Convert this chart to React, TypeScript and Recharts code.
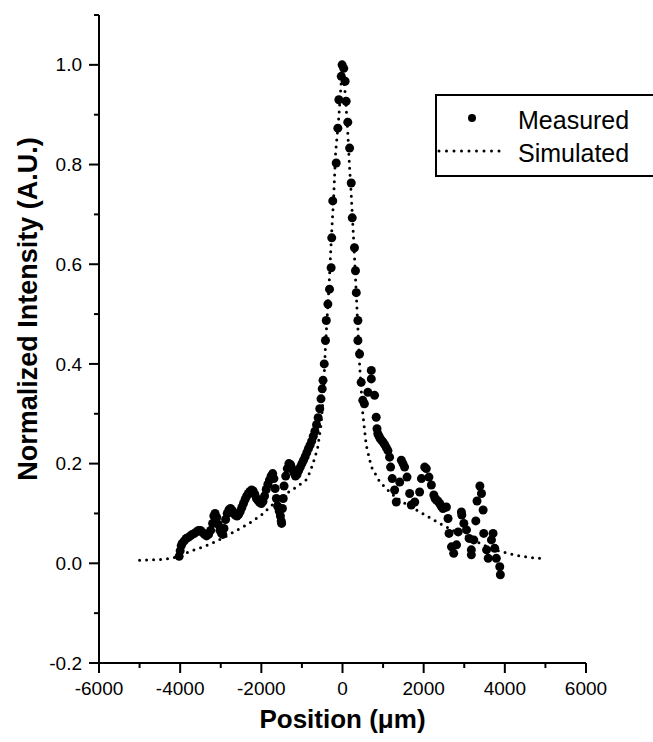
import React from 'react';
import { ScatterChart, Scatter, XAxis, YAxis, Legend } from 'recharts';

// Measured profile (position in um, normalized intensity)
const measuredX = [
  -4025, -4000, -3975, -3950, -3900, -3850, -3800, -3750, -3700, -3650, -3600, -3550, -3500, -3450, -3400,
  -3350, -3300, -3250, -3200, -3170, -3140, -3100, -3060, -3020, -2980, -2950, -2920, -2880, -2840, -2800,
  -2760, -2720, -2680, -2640, -2600, -2560, -2520, -2480, -2440, -2400, -2360, -2320, -2280, -2240, -2200,
  -2160, -2120, -2080, -2040, -2000, -1960, -1920, -1880, -1840, -1800, -1760, -1720, -1690, -1660, -1630,
  -1600, -1560, -1530, -1510, -1500, -1480, -1460, -1440, -1400, -1360, -1320, -1280, -1240, -1200, -1160,
  -1120, -1080, -1040, -1000, -960, -920, -880, -840, -800, -760, -720, -680, -640, -600, -560,
  -530, -500, -480, -450, -420, -400, -360, -320, -280, -265, -240, -155, -115, -90, -30,
  -10, 30, 65, 90, 130, 175, 215, 240, 295, 320, 340, 380, 380, 420, 460,
  500, 540, 625, 710, 710, 790, 830, 850, 870, 900, 930, 960, 1000, 1040, 1080,
  1120, 1160, 1185, 1225, 1285, 1325, 1410, 1450, 1490, 1530, 1590, 1655, 1695, 1780, 1900,
  1945, 2025, 2065, 2130, 2190, 2250, 2280, 2315, 2350, 2395, 2430, 2475, 2520, 2560, 2600,
  2625, 2685, 2740, 2810, 2850, 2930, 2940, 2990, 3055, 3120, 3175, 3175, 3235, 3285, 3315,
  3385, 3425, 3465, 3480, 3550, 3590, 3670, 3710, 3750, 3790, 3875, 3890,
];
const measuredY = [
  0.014, 0.025, 0.035, 0.04, 0.045, 0.05, 0.052, 0.055, 0.058, 0.06, 0.063, 0.066, 0.066, 0.062, 0.058,
  0.055, 0.058, 0.066, 0.08, 0.095, 0.1, 0.092, 0.078, 0.066, 0.06, 0.058, 0.07, 0.088, 0.1, 0.107,
  0.11, 0.106, 0.1, 0.097, 0.095, 0.098, 0.104, 0.112, 0.12, 0.128, 0.135, 0.14, 0.144, 0.147, 0.145,
  0.138, 0.13, 0.126, 0.122, 0.12, 0.124, 0.135, 0.148, 0.158, 0.167, 0.175, 0.18, 0.17, 0.15, 0.13,
  0.115, 0.105, 0.095, 0.085, 0.08, 0.11, 0.13, 0.155, 0.175, 0.19, 0.2, 0.198, 0.19, 0.182, 0.175,
  0.178, 0.186, 0.193, 0.2, 0.207, 0.214, 0.222, 0.23, 0.237, 0.245, 0.255, 0.265, 0.278, 0.292, 0.31,
  0.33, 0.35, 0.367, 0.4, 0.447, 0.487, 0.52, 0.55, 0.593, 0.653, 0.727, 0.803, 0.873, 0.93, 0.977,
  1.0, 0.993, 0.967, 0.927, 0.885, 0.833, 0.763, 0.693, 0.633, 0.587, 0.543, 0.487, 0.447, 0.42, 0.363,
  0.327, 0.32, 0.343, 0.387, 0.37, 0.337, 0.293, 0.27, 0.26, 0.255, 0.25, 0.247, 0.243, 0.238, 0.232,
  0.226, 0.213, 0.193, 0.17, 0.147, 0.123, 0.163, 0.207, 0.2, 0.193, 0.173, 0.14, 0.117, 0.123, 0.143,
  0.17, 0.193, 0.19, 0.173, 0.157, 0.137, 0.13, 0.127, 0.125, 0.12, 0.115, 0.11, 0.112, 0.113, 0.09,
  0.06, 0.033, 0.02, 0.037, 0.063, 0.103, 0.097, 0.08, 0.067, 0.05, 0.027, 0.017, 0.047, 0.085, 0.125,
  0.155, 0.14, 0.107, 0.06, 0.027, 0.01, 0.047, 0.06, 0.03, 0.01, -0.007, -0.023,
];

// Simulated profile
const simulatedX = [
  -5000, -4700, -4400, -4100, -3730, -3400, -3120, -2850, -2590, -2300, -2000, -1640, -1310, -1100, -900,
  -800, -740, -615, -530, -470, -420, -330, -270, -220, -170, -90, -40, 0, 70, 130,
  170, 215, 280, 340, 400, 420, 500, 585, 710, 915, 1200, 1500, 1820, 2100, 2400,
  2750, 3140, 3500, 3880, 4290, 4600, 4860,
];
const simulatedY = [
  0.006, 0.007, 0.008, 0.012, 0.025, 0.034, 0.044, 0.055, 0.067, 0.08, 0.097, 0.124, 0.144, 0.155, 0.167,
  0.183, 0.197, 0.23, 0.277, 0.34, 0.436, 0.56, 0.66, 0.73, 0.824, 0.896, 0.956, 0.996, 0.94, 0.864,
  0.8, 0.74, 0.64, 0.54, 0.436, 0.4, 0.3, 0.237, 0.194, 0.164, 0.14, 0.122, 0.107, 0.094, 0.08,
  0.065, 0.05, 0.036, 0.024, 0.016, 0.012, 0.01,
];

const xTicks = [-6000, -5000, -4000, -3000, -2000, -1000, 0, 1000, 2000, 3000, 4000, 5000, 6000];
const yTicks = [-0.2, -0.1, 0, 0.1, 0.2, 0.3, 0.4, 0.5, 0.6, 0.7, 0.8, 0.9, 1.0, 1.1];

const measured = measuredX.map((x, i) => ({ x, y: measuredY[i] }));
const simulated = simulatedX.map((x, i) => ({ x, y: simulatedY[i] }));

const FONT = '"Liberation Sans", Arial, Helvetica, sans-serif';

const XTick = (props: any) => {
  const { x, y, payload } = props;
  const major = Math.round(payload.value / 1000) % 2 === 0;
  return (
    <g>
      <line x1={x} x2={x} y1={y} y2={y + (major ? 10 : 5)} stroke="#000" strokeWidth={2} />
      {major && (
        <text x={x} y={y + 32} textAnchor="middle" fontSize={19} fontFamily={FONT} fill="#000">
          {payload.value}
        </text>
      )}
    </g>
  );
};

const YTick = (props: any) => {
  const { x, y, payload } = props;
  const major = Math.round(payload.value * 10) % 2 === 0;
  return (
    <g>
      <line x1={x} x2={x - (major ? 10 : 5)} y1={y} y2={y} stroke="#000" strokeWidth={2} />
      {major && (
        <text x={x - 17} y={y} dy="0.35em" textAnchor="end" fontSize={19} fontFamily={FONT} fill="#000">
          {payload.value.toFixed(1)}
        </text>
      )}
    </g>
  );
};

const XTitle = (props: any) => {
  const { viewBox } = props;
  return (
    <text x={viewBox.x + viewBox.width / 2} y={viewBox.y + 65} textAnchor="middle"
      fontSize={26} fontWeight="bold" fontFamily={FONT} fill="#000">
      Position (μm)
    </text>
  );
};

const YTitle = (props: any) => {
  const { viewBox } = props;
  const cx = 28;
  const cy = viewBox.y + viewBox.height / 2 - 30;
  return (
    <text x={cx} y={cy} transform={`rotate(-90 ${cx} ${cy})`} textAnchor="middle" dy="0.35em"
      fontSize={27} fontWeight="bold" fontFamily={FONT} fill="#000">
      Normalized Intensity (A.U.)
    </text>
  );
};

const LegendBox = () => (
  <div style={{ border: '2px solid #000', width: 230, height: 83, boxSizing: 'border-box', fontFamily: FONT, fontSize: 25, position: 'relative', lineHeight: '28px' }}>
    <svg width={70} height={80} style={{ position: 'absolute', left: 0, top: 0 }}>
      <circle cx={35} cy={22} r={4} fill="#000" />
      <line x1={2} x2={64} y1={55} y2={55} stroke="#000" strokeWidth={3} strokeDasharray="0 7.5" strokeLinecap="round" />
    </svg>
    <div style={{ position: 'absolute', left: 81, top: 10 }}>Measured</div>
    <div style={{ position: 'absolute', left: 81, top: 43 }}>Simulated</div>
  </div>
);

const Dot = (props: any) => <circle cx={props.cx} cy={props.cy} r={4.5} fill="#000" />;

export default function App() {
  return (
    <div style={{ position: 'absolute', left: 0, top: 0, width: 653, height: 742, overflow: 'hidden', background: '#fff' }}>
      <ScatterChart width={653} height={742} margin={{ top: 15, right: 67, left: 0, bottom: 0 }}>
        <XAxis type="number" dataKey="x" domain={[-6000, 6000]} ticks={xTicks} interval={0}
          axisLine={{ stroke: '#000', strokeWidth: 2 }} tickLine={false} tickSize={0} tickMargin={0}
          tick={<XTick />} height={79} label={{ content: <XTitle /> }} />
        <YAxis type="number" dataKey="y" domain={[-0.2, 1.1]} ticks={yTicks} interval={0}
          axisLine={{ stroke: '#000', strokeWidth: 2 }} tickLine={false} tickSize={0} tickMargin={0}
          tick={<YTick />} width={99} label={{ content: <YTitle /> }} />
        <Legend layout="vertical" align="center" verticalAlign="middle"
          wrapperStyle={{ left: 435, top: 94, width: 230 }} content={() => <LegendBox />} />
        <Scatter name="Simulated" data={simulated} isAnimationActive={false} shape={() => null}
          line={{ stroke: '#000', strokeWidth: 3, strokeDasharray: '0 7', strokeLinecap: 'round' }} />
        <Scatter name="Measured" data={measured} isAnimationActive={false} shape={<Dot />} />
      </ScatterChart>
    </div>
  );
}
